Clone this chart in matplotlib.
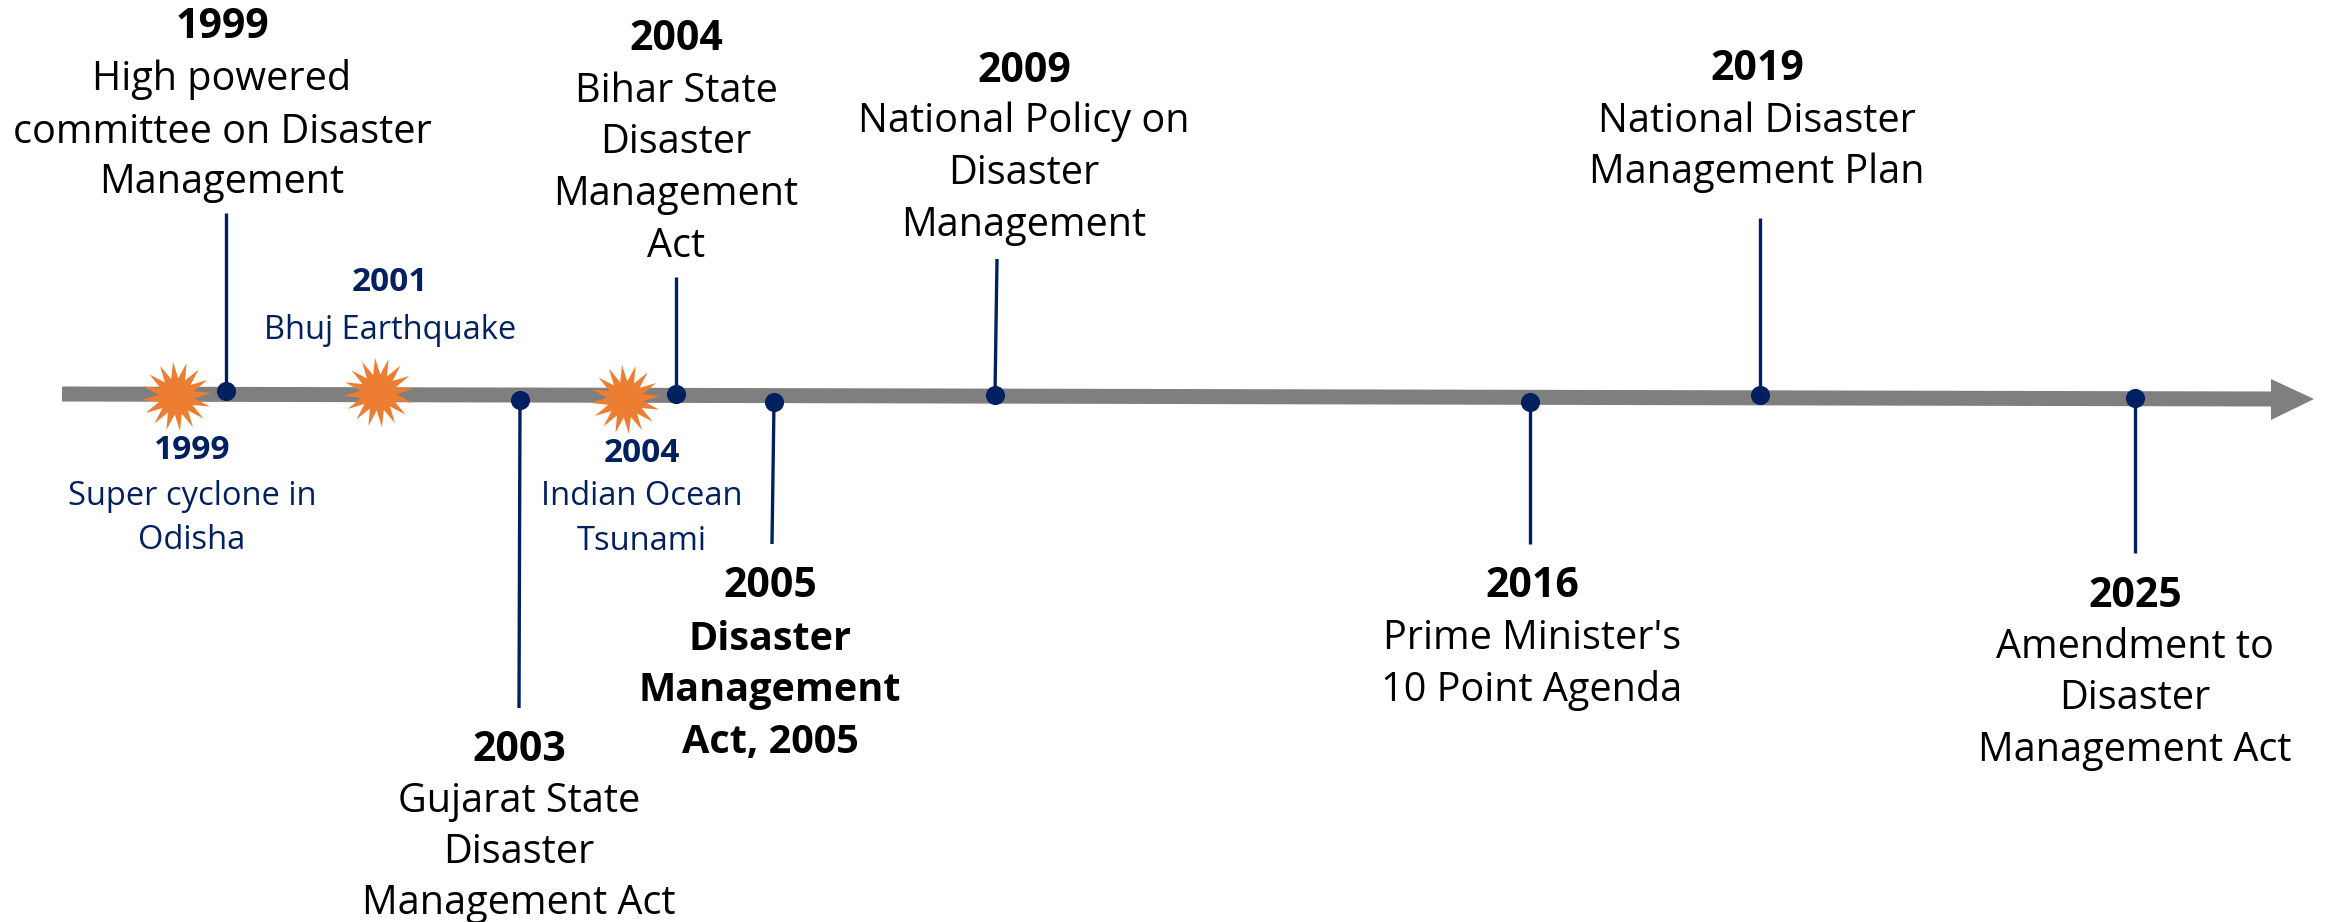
import numpy as np
import matplotlib
matplotlib.use('Agg')
import matplotlib.pyplot as plt
from matplotlib.path import Path

plt.rcParams['font.family'] = ['Open Sans', 'DejaVu Sans']

NAVY = '#002060'
ORANGE = '#ED7D31'
GREY = '#7F7F7F'

# policy milestones
years = ['1999', '2003', '2004', '2005', '2009', '2016', '2019', '2025']
titles = [
    ['High powered', 'committee on Disaster', 'Management'],
    ['Gujarat State', 'Disaster', 'Management Act'],
    ['Bihar State', 'Disaster', 'Management', 'Act'],
    ['Disaster', 'Management', 'Act, 2005'],
    ['National Policy on', 'Disaster', 'Management'],
    ["Prime Minister's", '10 Point Agenda'],
    ['National Disaster', 'Management Plan'],
    ['Amendment to', 'Disaster', 'Management Act'],
]
bold_title = [False, False, False, True, False, False, False, False]

# disasters
disaster_years = ['1999', '2001', '2004']
disaster_titles = [
    ['Super cyclone in', 'Odisha'],
    ['Bhuj Earthquake'],
    ['Indian Ocean', 'Tsunami'],
]

# layout, in pixels of the picture
dot_x = [226, 520, 676, 774, 995, 1530, 1760, 2135]
dot_y = [391, 400, 394, 402, 395, 402, 395, 398]
stem_x = [226, 519, 676, 772, 997, 1530, 1760, 2135]
stem_end = [213, 708, 277, 544, 259, 544, 218, 553]
text_x = [222, 519, 676, 770, 1024, 1532, 1757, 2135]
text_y = [
    [27, 80, 133, 183],
    [750, 802, 853, 904],
    [40, 92, 143, 195, 247],
    [586, 639, 690, 742],
    [71, 122, 174, 226],
    [586, 639, 690],
    [70, 122, 173],
    [596, 648, 699, 751],
]
star_x = [176, 378, 625]
star_y = [396, 392, 399]
dis_text_x = [192, 390, 642]
dis_text_y = [
    [450, 496, 540],
    [282, 330],
    [453, 496, 541],
]

fig = plt.figure(figsize=(23.36, 9.22), dpi=100)
ax = fig.add_axes([0, 0, 1, 1])
ax.set_xlim(0, 2336)
ax.set_ylim(922, 0)
ax.axis('off')

# main arrow
ax.plot([62, 2272], [394, 399], color=GREY, lw=10.8, solid_capstyle='butt', zorder=1)
ax.fill([2271, 2314, 2271], [379, 399, 420], color=GREY, lw=0, zorder=1)

# stems and dots
for i in range(len(years)):
    ax.plot([dot_x[i], stem_x[i]], [dot_y[i], stem_end[i]], color=NAVY, lw=2.4,
            solid_capstyle='butt', zorder=2)
ax.scatter(dot_x, dot_y, s=190, color=NAVY, linewidths=0, zorder=3)

# 16 point burst
angles = np.linspace(0, 2 * np.pi, 32, endpoint=False) + 0.1
radii = np.where(np.arange(32) % 2 == 0, 1.0, 0.52)
verts = np.column_stack([radii * np.cos(angles), radii * np.sin(angles)])
verts = np.vstack([verts, verts[0]])
burst = Path(verts, closed=True)
ax.scatter(star_x, star_y, s=2500, marker=burst, color=ORANGE, linewidths=0, zorder=4)

# milestone text
for i in range(len(years)):
    ax.text(text_x[i], text_y[i][0], years[i], fontsize=29.5, fontweight='bold',
            color='black', ha='center', va='center')
    for j, line in enumerate(titles[i]):
        ax.text(text_x[i], text_y[i][j + 1], line, fontsize=28.5,
                fontweight='bold' if bold_title[i] else 'normal',
                color='black', ha='center', va='center')

# disaster text
for i in range(len(disaster_years)):
    ax.text(dis_text_x[i], dis_text_y[i][0], disaster_years[i], fontsize=24,
            fontweight='bold', color=NAVY, ha='center', va='center')
    for j, line in enumerate(disaster_titles[i]):
        ax.text(dis_text_x[i], dis_text_y[i][j + 1], line, fontsize=23.5,
                color=NAVY, ha='center', va='center')

fig.savefig('out.png', dpi=100)
